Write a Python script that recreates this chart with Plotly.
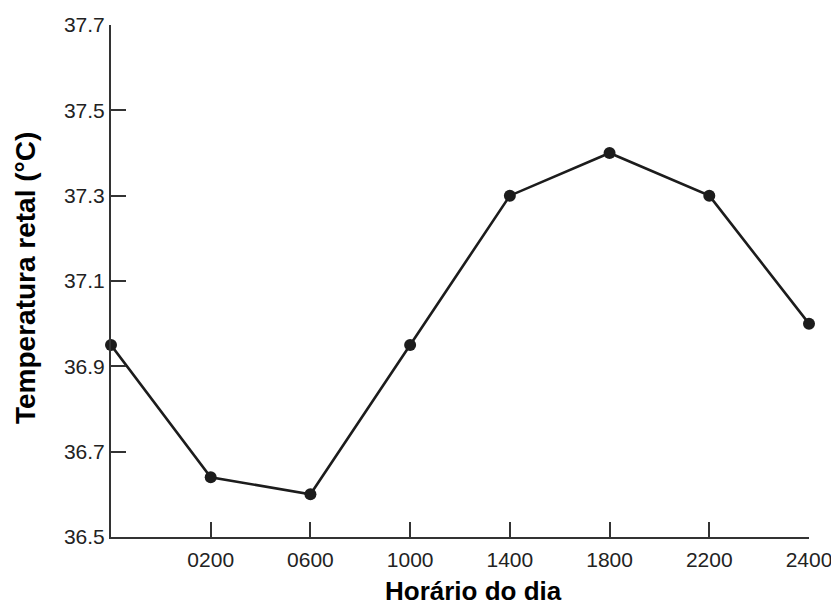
import plotly.graph_objects as go

# Rectal temperature across the day (first point = start of the series, unlabeled)
positions = [0, 1, 2, 3, 4, 5, 6, 7]
temperatures = [36.95, 36.64, 36.60, 36.95, 37.30, 37.40, 37.30, 37.00]
tick_positions = [1, 2, 3, 4, 5, 6, 7]
tick_labels = ["0200", "0600", "1000", "1400", "1800", "2200", "2400"]
y_ticks = [36.5, 36.7, 36.9, 37.1, 37.3, 37.5, 37.7]

FONT = "Liberation Sans, Arial, Helvetica, sans-serif"
INK = "#1c1c1c"

fig = go.Figure()
fig.add_trace(go.Scatter(
    x=positions,
    y=temperatures,
    mode="lines+markers",
    line=dict(color=INK, width=2.6),
    marker=dict(color=INK, size=12),
    cliponaxis=False,
    showlegend=False,
))

W, H = 831, 606
L, R, T, B = 111, 22, 25, 69

axis_common = dict(
    ticks="inside",
    ticklen=15,
    tickwidth=2,
    tickcolor="#333333",
    showline=True,
    linecolor="#333333",
    linewidth=2,
    showgrid=False,
    zeroline=False,
    tickfont=dict(size=21, color="#222222"),
    ticklabeloverflow="allow",
    automargin=False,
)

fig.update_layout(
    width=W,
    height=H,
    margin=dict(l=L, r=R, t=T, b=B),
    paper_bgcolor="white",
    plot_bgcolor="white",
    font=dict(family=FONT, color=INK),
    xaxis=dict(
        range=[0, 7],
        tickmode="array",
        tickvals=tick_positions,
        ticktext=tick_labels,
        ticklabelstandoff=3,
        **axis_common,
    ),
    yaxis=dict(
        range=[36.5, 37.7],
        tickmode="array",
        tickvals=y_ticks,
        ticktext=[f"{v:.1f}" for v in y_ticks],
        **axis_common,
    ),
    annotations=[
        dict(
            text="<b>Horário do dia</b>",
            xref="paper", yref="paper",
            x=(473 - L) / (W - L - R),
            y=-(591 - (H - B)) / (H - T - B),
            xanchor="center", yanchor="middle",
            showarrow=False,
            font=dict(size=26, color="#000000", family=FONT),
        ),
        dict(
            text="<b>Temperatura retal (°C)</b>",
            xref="paper", yref="paper",
            x=(25 - L) / (W - L - R),
            y=1 - (278 - T) / (H - T - B),
            xanchor="center", yanchor="middle",
            textangle=-90,
            showarrow=False,
            font=dict(size=28, color="#000000", family=FONT),
        ),
    ],
)

fig.write_html("out.html")
